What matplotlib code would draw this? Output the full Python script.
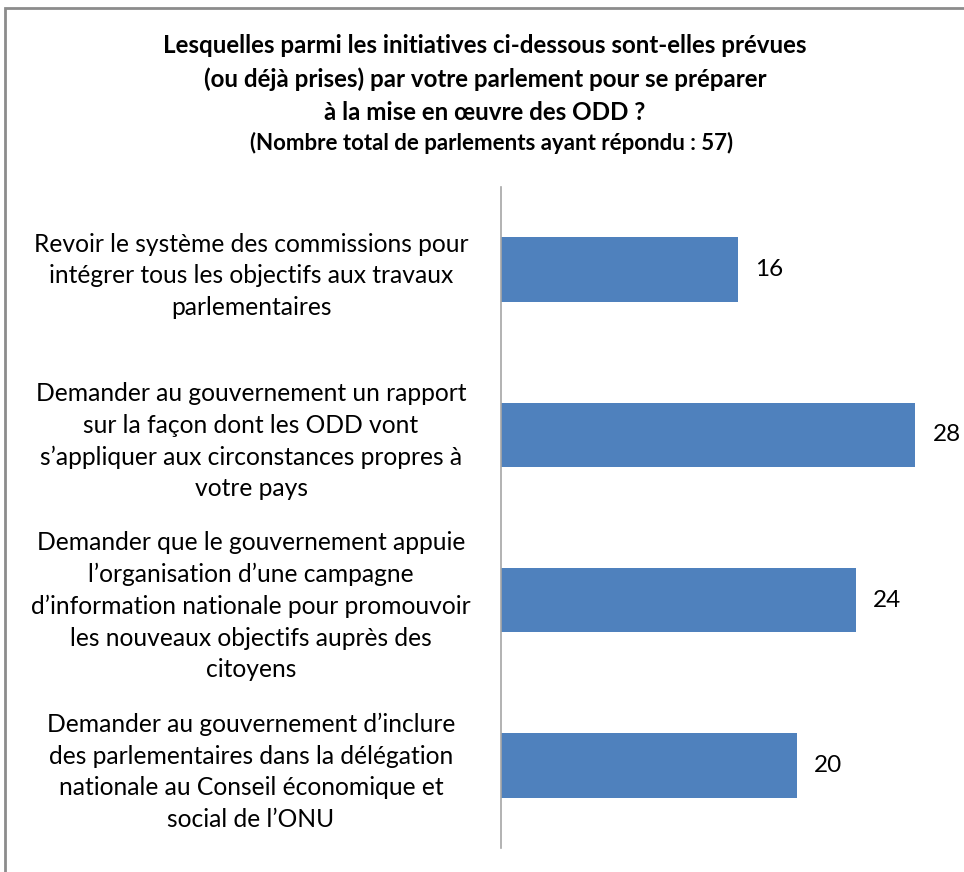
import matplotlib.pyplot as plt
from matplotlib.patches import Rectangle

plt.rcParams['font.family'] = ['Lato', 'DejaVu Sans']

categories = [
    "Revoir le système des commissions pour\nintégrer tous les objectifs aux travaux\nparlementaires",
    "Demander au gouvernement un rapport\nsur la façon dont les ODD vont\ns’appliquer aux circonstances propres à\nvotre pays",
    "Demander que le gouvernement appuie\nl’organisation d’une campagne\nd’information nationale pour promouvoir\nles nouveaux objectifs auprès des\ncitoyens",
    "Demander au gouvernement d’inclure\ndes parlementaires dans la délégation\nnationale au Conseil économique et\nsocial de l’ONU",
]
values = [16, 28, 24, 20]

fig = plt.figure(figsize=(9.64, 8.72), dpi=100)
fig.patches.append(Rectangle((5 / 964, -0.1), 1.2, 1 - 8 / 872 + 0.1,
                             transform=fig.transFigure, fill=False,
                             edgecolor='#8c8c8c', linewidth=2))

ax = fig.add_axes([501 / 964, 1 - 848 / 872, 444 / 964, 661 / 872])
ypos = list(range(len(values)))
ax.barh(ypos, values, height=0.39, color='#4f81bd')
ax.set_ylim(len(values) - 0.5, -0.5)
ax.set_xlim(0, 30)

for y, v in zip(ypos, values):
    ax.annotate(str(v), (v, y), xytext=(17, 0), textcoords='offset pixels',
                va='center', ha='left', fontsize=17.5)

ax.set_yticks(ypos)
ax.set_yticklabels(categories, fontsize=17.7, linespacing=1.45)
ax.tick_params(axis='y', length=0, pad=180)
for lab in ax.get_yticklabels():
    lab.set_ha('center')
    lab.set_multialignment('center')
ax.set_xticks([])
for s in ['top', 'right', 'bottom']:
    ax.spines[s].set_visible(False)
ax.spines['left'].set_color('#a6a6a6')
ax.spines['left'].set_linewidth(1.2)

fig.text(485 / 964, 1 - 79 / 872,
         "Lesquelles parmi les initiatives ci-dessous sont-elles prévues\n"
         "(ou déjà prises) par votre parlement pour se préparer\n"
         "à la mise en œuvre des ODD ?",
         ha='center', va='center', fontsize=17.4, fontweight='bold',
         linespacing=1.55)
fig.text(492 / 964, 1 - 143 / 872, "(Nombre total de parlements ayant répondu : 57)",
         ha='center', va='center', fontsize=16, fontweight='bold')

fig.savefig('out.png', dpi=100)
